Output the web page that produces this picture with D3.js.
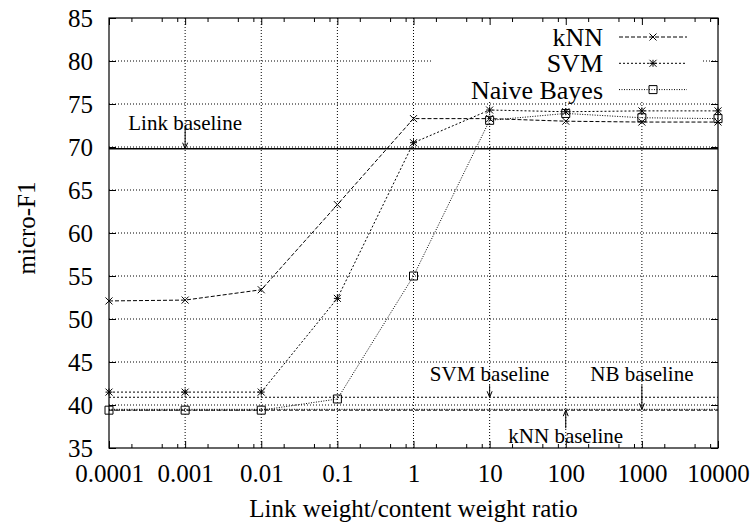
<!DOCTYPE html>
<html>
<head>
  <meta charset="utf-8">
  <title>micro-F1 vs link weight ratio</title>
  <style>
    body { margin: 0; background: #fff; }
    text { font-family: "Liberation Serif", "DejaVu Serif", serif; fill: #000; }
  </style>
</head>
<body>
  <div id="plot"></div>
  <script src="https://cdn.jsdelivr.net/npm/d3@7"></script>
  <script>

    function translate(x, y) {
      return 'translate(' + x + ', ' + y + ')';
    }

    // data
    let ratios = [0.0001, 0.001, 0.01, 0.1, 1, 10, 100, 1000, 10000];
    let ratioLabels = ['0.0001', '0.001', '0.01', '0.1', '1', '10', '100', '1000', '10000'];
    let knnValues = [52.1, 52.2, 53.4, 63.3, 73.3, 73.3, 73.0, 72.9, 72.9];
    let svmValues = [41.5, 41.5, 41.5, 52.4, 70.5, 74.3, 74.1, 74.2, 74.2];
    let nbValues = [39.4, 39.4, 39.4, 40.7, 55.0, 73.1, 73.9, 73.4, 73.3];
    let yTicks = [35, 40, 45, 50, 55, 60, 65, 70, 75, 80, 85];
    let minorMultipliers = [2, 5, 8];

    // baselines: name, value, arrow x, label y, arrow start y
    let baselineNames = ['Link baseline', 'SVM baseline', 'NB baseline', 'kNN baseline'];
    let baselineValues = [69.8, 40.9, 39.5, 39.4];
    let baselineAt = [0.001, 10, 1000, 100];
    let baselineLabelY = [72.0, 42.8, 42.8, 35.6];
    let baselineArrowFrom = [72.3, 42.3, 42.3, 37.3];

    let svgWidth = 753;
    let svgHeight = 526;
    let margin = {top: 18, right: 35, bottom: 78, left: 109};
    let width = svgWidth - margin.left - margin.right;
    let height = svgHeight - margin.top - margin.bottom;

    let root = d3.select('#plot')
      .append('svg')
        .attr('width', svgWidth)
        .attr('height', svgHeight);

    let svg = root.append('g')
      .attr('transform', translate(margin.left, margin.top));

    let x = d3.scaleLog().domain([0.0001, 10000]).range([0, width]);
    let y = d3.scaleLinear().domain([35, 85]).range([height, 0]);

    let minorTicks = [];
    ratios.slice(0, -1).forEach(function(r) {
      minorMultipliers.forEach(function(m) { minorTicks.push(r * m); });
    });

    // grid
    let grid = svg.append('g').attr('class', 'grid')
      .attr('stroke', '#000')
      .attr('stroke-width', 1)
      .attr('stroke-dasharray', '1,2');
    grid.selectAll('.gx')
      .data(ratios.slice(1, -1))
      .enter()
      .append('line')
        .attr('x1', d => x(d)).attr('x2', d => x(d))
        .attr('y1', 0).attr('y2', height);
    grid.selectAll('.gy')
      .data(yTicks.slice(1, -1))
      .enter()
      .append('line')
        .attr('x1', 0).attr('x2', width)
        .attr('y1', d => y(d)).attr('y2', d => y(d));

    // key background hides grid behind it
    svg.append('rect')
      .attr('x', 324).attr('y', 1)
      .attr('width', 270).attr('height', 81)
      .attr('fill', '#fff');

    // axes with inward ticks on all four sides
    function styleAxis(g) {
      g.select('.domain').remove();
      g.selectAll('.tick line').attr('stroke', '#000');
      g.selectAll('.tick text')
        .style('font-family', '"Liberation Serif", serif')
        .style('font-size', '25px')
        .attr('fill', '#000');
    }

    let xAxis = d3.axisBottom(x)
      .tickValues(ratios)
      .tickFormat((d, i) => ratioLabels[i])
      .tickSize(-7)
      .tickPadding(16);
    svg.append('g')
      .attr('transform', translate(0, height))
      .call(xAxis)
      .call(styleAxis);

    svg.append('g')
      .call(d3.axisTop(x).tickValues(ratios).tickFormat('').tickSize(-7))
      .call(styleAxis);

    [['bottom', height, 1], ['top', 0, -1]].forEach(function(s) {
      svg.append('g')
        .selectAll('line')
        .data(minorTicks)
        .enter()
        .append('line')
          .attr('x1', d => x(d)).attr('x2', d => x(d))
          .attr('y1', s[1]).attr('y2', s[1] - 4 * s[2])
          .attr('stroke', '#000');
    });

    svg.append('g')
      .call(d3.axisLeft(y).tickValues(yTicks).tickSize(-7).tickPadding(16))
      .call(styleAxis);

    svg.append('g')
      .attr('transform', translate(width, 0))
      .call(d3.axisRight(y).tickValues(yTicks).tickFormat('').tickSize(-7))
      .call(styleAxis);

    // frame
    svg.append('rect')
      .attr('width', width).attr('height', height)
      .attr('fill', 'none')
      .attr('stroke', '#000')
      .attr('stroke-width', 1.2);

    // axis titles
    svg.append('text')
      .attr('x', width / 2)
      .attr('y', height + 69)
      .style('font-size', '25px')
      .style('text-anchor', 'middle')
      .text('Link weight/content weight ratio');

    svg.append('text')
      .attr('transform', translate(-83, height / 2 - 5) + ' rotate(-90)')
      .style('font-size', '25px')
      .style('text-anchor', 'middle')
      .attr('dy', '0.35em')
      .text('micro-F1');

    // series styles
    let series = [
      {name: 'kNN', values: knnValues, dash: '4,2', marker: 'x'},
      {name: 'SVM', values: svmValues, dash: '2,2', marker: 'star'},
      {name: 'Naive Bayes', values: nbValues, dash: '1,1.5', marker: 'box'}
    ];

    function markerPath(marker, cx, cy) {
      let r = 3.5;
      let p = d3.path();
      if (marker === 'x' || marker === 'star') {
        p.moveTo(cx - r, cy - r); p.lineTo(cx + r, cy + r);
        p.moveTo(cx - r, cy + r); p.lineTo(cx + r, cy - r);
      }
      if (marker === 'star') {
        p.moveTo(cx - r, cy); p.lineTo(cx + r, cy);
        p.moveTo(cx, cy - r); p.lineTo(cx, cy + r);
      }
      if (marker === 'box') {
        p.rect(cx - 4, cy - 4, 8, 8);
      }
      return p.toString();
    }

    // baselines
    let baselineDash = [null, '2,2', '1,1.5', '4,2'];
    svg.selectAll('.baseline')
      .data(baselineValues)
      .enter()
      .append('line')
        .attr('x1', 0).attr('x2', width)
        .attr('y1', d => y(d)).attr('y2', d => y(d))
        .attr('stroke', '#000')
        .attr('stroke-width', (d, i) => i === 0 ? 1.5 : 1)
        .attr('stroke-dasharray', (d, i) => baselineDash[i]);

    let line = d3.line()
      .x((d, i) => x(ratios[i]))
      .y(d => y(d));

    series.forEach(function(s) {
      svg.append('path')
        .datum(s.values)
        .attr('d', line)
        .attr('fill', 'none')
        .attr('stroke', '#000')
        .attr('stroke-width', 1)
        .attr('stroke-dasharray', s.dash);

      svg.append('g')
        .selectAll('path')
        .data(s.values)
        .enter()
        .append('path')
          .attr('d', (d, i) => markerPath(s.marker, x(ratios[i]), y(d)))
          .attr('fill', 'none')
          .attr('stroke', '#000')
          .attr('stroke-width', 1);
    });

    // baseline labels and arrows
    baselineNames.forEach(function(name, i) {
      let ax = x(baselineAt[i]);
      let y0 = y(baselineArrowFrom[i]);
      let y1 = y(baselineValues[i]);
      let dir = y1 > y0 ? 1 : -1;
      svg.append('line')
        .attr('x1', ax).attr('x2', ax)
        .attr('y1', y0).attr('y2', y1)
        .attr('stroke', '#000');
      svg.append('path')
        .attr('d', 'M' + (ax - 2.5) + ',' + (y1 - 6 * dir) + 'L' + ax + ',' + y1 + 'L' + (ax + 2.5) + ',' + (y1 - 6 * dir))
        .attr('fill', 'none')
        .attr('stroke', '#000');
      svg.append('text')
        .attr('x', ax)
        .attr('y', y(baselineLabelY[i]))
        .style('font-size', '21px')
        .style('text-anchor', 'middle')
        .text(name);
    });

    // key
    let key = svg.selectAll('.key')
      .data(series)
      .enter()
      .append('g')
        .attr('transform', (d, i) => translate(0, 19 + i * 26.3));

    key.append('text')
      .attr('x', 494)
      .attr('dy', '0.35em')
      .style('font-size', '26px')
      .style('text-anchor', 'end')
      .text(d => d.name);

    key.append('line')
      .attr('x1', 510).attr('x2', 578)
      .attr('stroke', '#000')
      .attr('stroke-dasharray', d => d.dash);

    key.append('path')
      .attr('d', d => markerPath(d.marker, 544, 0))
      .attr('fill', 'none')
      .attr('stroke', '#000');

  </script>
</body>
</html>
